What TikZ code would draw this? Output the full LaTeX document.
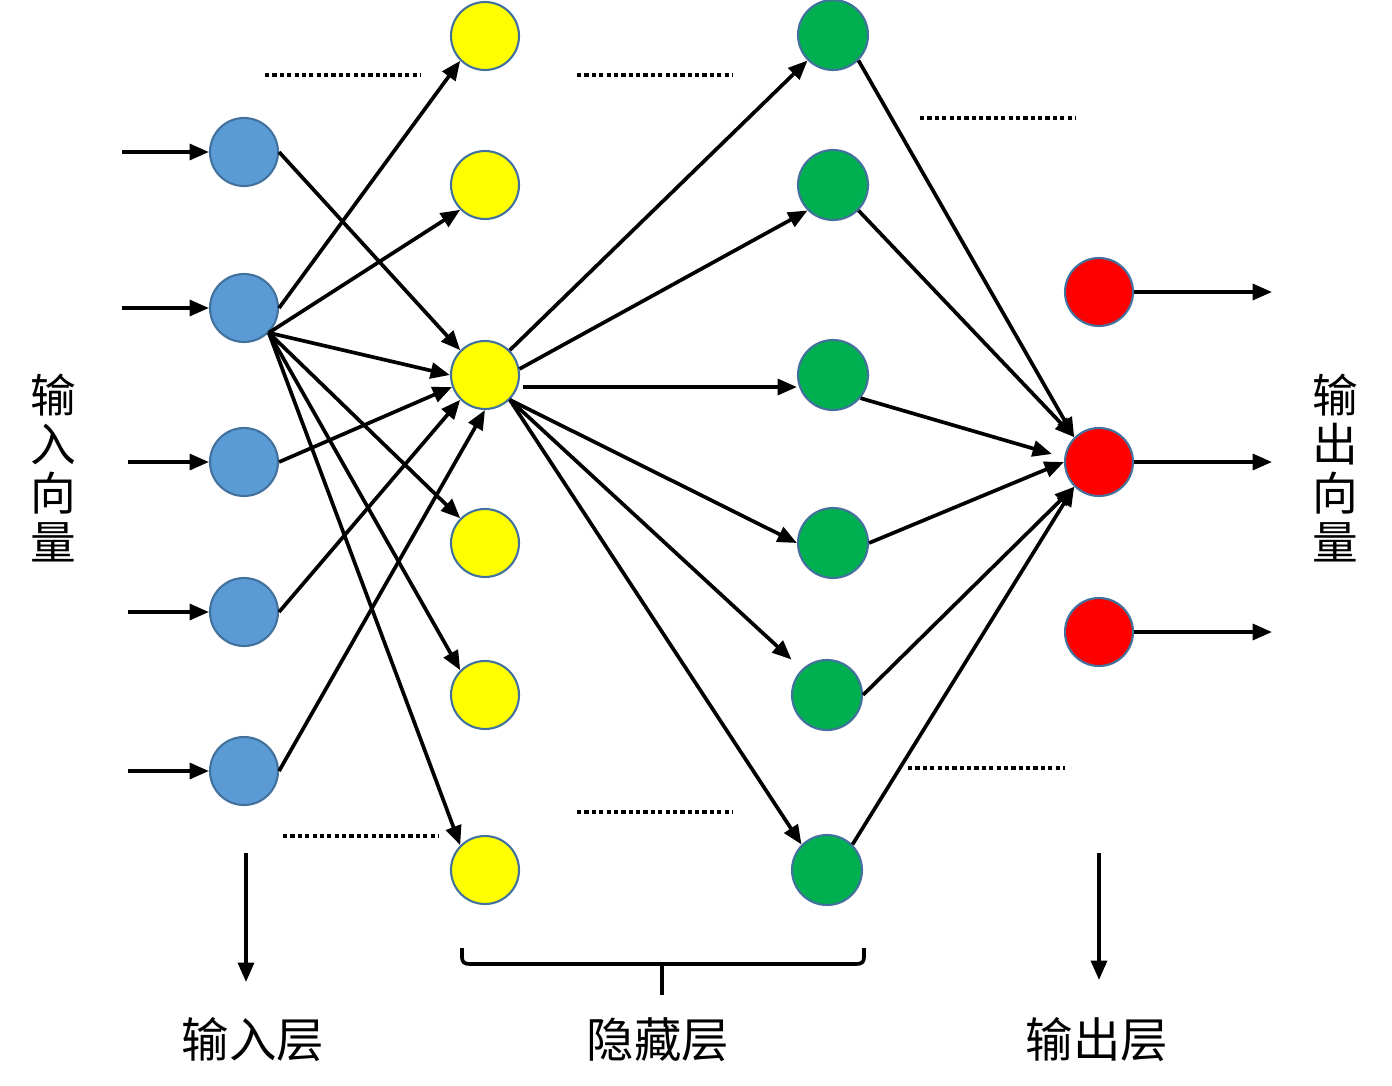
\documentclass[tikz,border=0pt]{standalone}
\usepackage{fontspec}
\newfontfamily\cjk{Noto Sans CJK SC}
\usetikzlibrary{arrows.meta,calc}
\definecolor{cblue}{HTML}{5B9BD5}
\definecolor{cborder}{HTML}{41719C}
\definecolor{cgreen}{HTML}{00B050}
\definecolor{cyellow}{HTML}{FFFF00}
\definecolor{cred}{HTML}{FF0000}
\begin{document}
\begin{tikzpicture}[x=0.02cm,y=-0.02cm,
  neuron/.style={circle,draw=cborder,line width=1.2pt,inner sep=0pt,minimum size=1.36cm},
  inn/.style={neuron,fill=cblue},
  hid1/.style={neuron,fill=cyellow},
  hid2/.style={neuron,fill=cgreen,minimum size=1.4cm},
  outn/.style={neuron,fill=cred},
  arr/.style={line width=2.1pt,-{Triangle[length=11pt,width=9pt]}},
  plain/.style={line width=2.1pt},
  dots/.style={line width=2pt,dash pattern=on 2.4pt off 1.8pt},
  lab/.style={font=\cjk\fontsize{27pt}{27pt}\selectfont},
  vlab/.style={font=\cjk\fontsize{26pt}{28pt}\selectfont,align=center}
]
\useasboundingbox (0,0) rectangle (1392,1085);

% input layer
\node[inn] (b1) at (244,152) {};
\node[inn] (b2) at (244,308) {};
\node[inn] (b3) at (244,462) {};
\node[inn] (b4) at (244,612) {};
\node[inn] (b5) at (244,771) {};
% hidden layer 1
\node[hid1] (y1) at (485,36) {};
\node[hid1] (y2) at (485,185) {};
\node[hid1] (y3) at (485,375) {};
\node[hid1] (y4) at (485,543) {};
\node[hid1] (y5) at (485,695) {};
\node[hid1] (y6) at (485,870) {};
% hidden layer 2
\node[hid2] (g1) at (833,35) {};
\node[hid2] (g2) at (833,185) {};
\node[hid2] (g3) at (833,375) {};
\node[hid2] (g4) at (833,543) {};
\node[hid2] (g5) at (827,695) {};
\node[hid2] (g6) at (827,870) {};
% output layer
\node[outn] (r1) at (1099,292) {};
\node[outn] (r2) at (1099,462) {};
\node[outn] (r3) at (1099,632) {};

% input arrows
\coordinate (i1) at (122,152);
\coordinate (i2) at (122,308);
\coordinate (i3) at (128,462);
\coordinate (i4) at (128,612);
\coordinate (i5) at (128,771);
\foreach \k in {1,...,5} \draw[arr] (i\k) -- (b\k.west);

% output arrows
\coordinate (o1) at (1272,292);
\coordinate (o2) at (1272,462);
\coordinate (o3) at (1272,632);
\foreach \k in {1,2,3} \draw[arr] (r\k.east) -- (o\k);

% input -> hidden1
\draw[arr] (b1.east) -- (y3.135);
\draw[arr] (b2.east) -- (y1.-135);
\draw[arr] (b2.-45) -- (y2.-135);
\draw[arr] (b2.-45) -- (y3.west);
\draw[arr] (b2.-45) -- (y4.135);
\draw[arr] (b2.-45) -- (y5.135);
\draw[arr] (b2.-45) -- (y6.135);
\draw[arr] (b3.east) -- (y3.-160);
\draw[arr] (b4.east) -- (y3.-135);
\draw[arr] (b5.east) -- (y3.-90);

% hidden1 -> hidden2
\draw[arr] (y3.45) -- (g1.-135);
\draw[arr] (y3.10) -- (g2.-135);
\draw[arr] ([shift={(3,12)}]y3.east) -- ([shift={(0,12)}]g3.west);
\draw[arr] (y3.-45) -- (g4.west);
\draw[arr] (y3.-45) -- ([shift={(-10,-10)}]g5.135);
\draw[arr] (y3.-45) -- (g6.135);

% hidden2 -> output
\draw[arr] (g1.-45) -- (r2.135);
\draw[arr] (g2.-45) -- (r2.135);
\draw[arr] (g3.-40) -- ([shift={(-12,-8)}]r2.west);
\draw[arr] (g4.east) -- (r2.west);
\draw[arr] (g5.east) -- (r2.-135);
\draw[arr] (g6.45) -- (r2.-135);

% dotted lines
\draw[dots] (265,75) -- (420,75);
\draw[dots] (577,75) -- (732,75);
\draw[dots] (920,118) -- (1075,118);
\draw[dots] (283,836) -- (438,836);
\draw[dots] (577,812) -- (732,812);
\draw[dots] (908,768) -- (1065,768);

% side labels
\node[vlab] (lin) at (53,468) {输\\入\\向\\量};
\node[vlab] (lout) at (1335,468) {输\\出\\向\\量};

% down arrows
\coordinate (d1a) at (246,853);
\coordinate (d1b) at (246,982);
\coordinate (d3a) at (1099,853);
\coordinate (d3b) at (1099,980);
\draw[arr] (d1a) -- (d1b);
\draw[arr] (d3a) -- (d3b);

% brace
\draw[plain,line join=round] (462,948) -- (462,957) .. controls (462,962) and (464,964) .. (470,964) -- (856,964) .. controls (862,964) and (864,962) .. (864,957) -- (864,948);
\draw[plain] (662,964) -- (662,995);

% bottom labels
\node[lab] (t1) at (253,1040) {输入层};
\node[lab] (t2) at (658,1040) {隐藏层};
\node[lab] (t3) at (1097,1040) {输出层};
\end{tikzpicture}
\end{document}
